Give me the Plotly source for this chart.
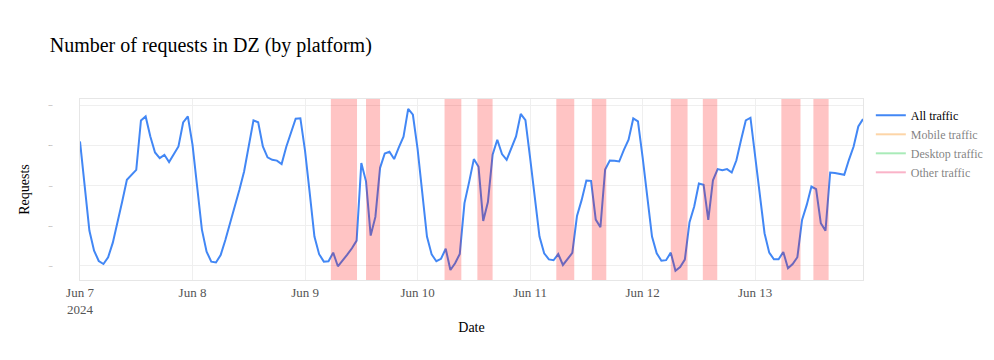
import pandas as pd
import plotly.graph_objects as go

# ---- data -------------------------------------------------------------
start = "2024-06-07 00:00"
all_traffic = [
    # Jun 7
    4108, 2988, 1883, 1383, 1125, 1050, 1218, 1583, 2068, 2608, 3150, 3268,
    3400, 4633, 4733, 4233, 3833, 3693, 3775, 3593, 3775, 3983, 4583, 4733,
    # Jun 8
    4025, 2988, 1908, 1358, 1108, 1088, 1275, 1650, 2050, 2475, 2900, 3358,
    3983, 4633, 4588, 3983, 3713, 3650, 3630, 3545, 3975, 4300, 4675, 4688,
    # Jun 9
    3875, 2818, 1733, 1295, 1108, 1118, 1333, 993, 1133, 1283, 1443, 1633,
    3568, 3113, 1758, 2225, 3450, 3808, 3850, 3670, 3963, 4225, 4920, 4775,
    # Jun 10
    3925, 2863, 1733, 1288, 1118, 1180, 1430, 900, 1068, 1300, 2568, 3100,
    3668, 3475, 2125, 2595, 3775, 4150, 3793, 3650, 3943, 4233, 4795, 4638,
    # Jun 11
    3700, 2713, 1733, 1318, 1163, 1143, 1298, 1025, 1168, 1325, 2250, 2650,
    3133, 3125, 2158, 1968, 3408, 3633, 3625, 3608, 3900, 4150, 4683, 4608,
    # Jun 12
    3713, 2675, 1733, 1318, 1130, 1145, 1333, 883, 975, 1158, 2095, 2483,
    3058, 3025, 2150, 3140, 3418, 3390, 3418, 3333, 3638, 4150, 4633, 4700,
    # Jun 13
    3733, 2733, 1818, 1333, 1168, 1168, 1350, 943, 1050, 1218, 2150, 2525,
    2983, 2918, 2068, 1883, 3333, 3318, 3300, 3275, 3650, 3983, 4483, 4668,
]
timestamps = pd.date_range(start, periods=len(all_traffic), freq="h")

# hidden series (legend only in the reference; values not visible -> unknown)
mobile_traffic = [None] * len(all_traffic)
desktop_traffic = [None] * len(all_traffic)
other_traffic = [None] * len(all_traffic)

series_names = ["All traffic", "Mobile traffic", "Desktop traffic", "Other traffic"]
series_colors = ["#4287F5", "#FBAB51", "#55D773", "#F56991"]

# shaded outage windows
outage_starts = [
    "2024-06-09 05:30", "2024-06-09 13:00",
    "2024-06-10 05:45", "2024-06-10 12:45",
    "2024-06-11 05:35", "2024-06-11 13:10",
    "2024-06-12 06:00", "2024-06-12 12:50",
    "2024-06-13 05:35", "2024-06-13 12:25",
]
outage_ends = [
    "2024-06-09 11:05", "2024-06-09 16:00",
    "2024-06-10 09:20", "2024-06-10 16:00",
    "2024-06-11 09:25", "2024-06-11 16:15",
    "2024-06-12 09:35", "2024-06-12 15:55",
    "2024-06-13 09:40", "2024-06-13 15:40",
]

y_ticks = [1000, 2000, 3000, 4000, 5000]
y_range = [650, 5168]

# ---- figure -----------------------------------------------------------
fig = go.Figure()
fig.add_trace(go.Scatter(x=timestamps, y=all_traffic, mode="lines",
                         name=series_names[0],
                         line=dict(color=series_colors[0], width=2)))
for name, color, vals in zip(series_names[1:], series_colors[1:],
                             [mobile_traffic, desktop_traffic, other_traffic]):
    fig.add_trace(go.Scatter(x=timestamps, y=vals, mode="lines",
                             name=name, visible="legendonly",
                             line=dict(color=color, width=2)))

for s, e in zip(outage_starts, outage_ends):
    fig.add_shape(type="rect", xref="x", yref="paper", x0=s, x1=e, y0=0, y1=1,
                  fillcolor="red", opacity=0.23, line=dict(width=0),
                  layer="above")

serif = "Liberation Serif, Times New Roman, serif"
fig.update_layout(
    width=994, height=360,
    margin=dict(l=80, r=131, t=99, b=80, autoexpand=False),
    paper_bgcolor="white", plot_bgcolor="white",
    font=dict(family=serif, color="black", size=12),
    title=dict(text="Number of requests in DZ (by platform)",
               x=0.05, xanchor="left", y=0.875, yanchor="middle",
               font=dict(size=20, family=serif, color="black")),
    legend=dict(font=dict(size=12, family=serif), x=1.01, y=0.99,
                xanchor="left", yanchor="top"),
    showlegend=True,
)
fig.update_xaxes(
    title=dict(text="Date", font=dict(size=14), standoff=6),
    automargin=True,
    showgrid=True, gridcolor="#efefef",
    showline=True, mirror=True, linecolor="#e6e6e6",
    tickfont=dict(color="#555", size=13),
    range=[timestamps[0], timestamps[-1]],
)
fig.update_yaxes(
    title=dict(text="Requests", font=dict(size=14)),
    automargin=False,
    showgrid=True, gridcolor="#efefef",
    showline=True, mirror=True, linecolor="#e6e6e6",
    zeroline=False,
    tickvals=y_ticks, range=y_range,
    tickfont=dict(size=2, color="#555"),
    ticklabelstandoff=26,
)

fig.write_html("out.html", config={"displayModeBar": False},
               post_script="document.body.style.margin='0';")
